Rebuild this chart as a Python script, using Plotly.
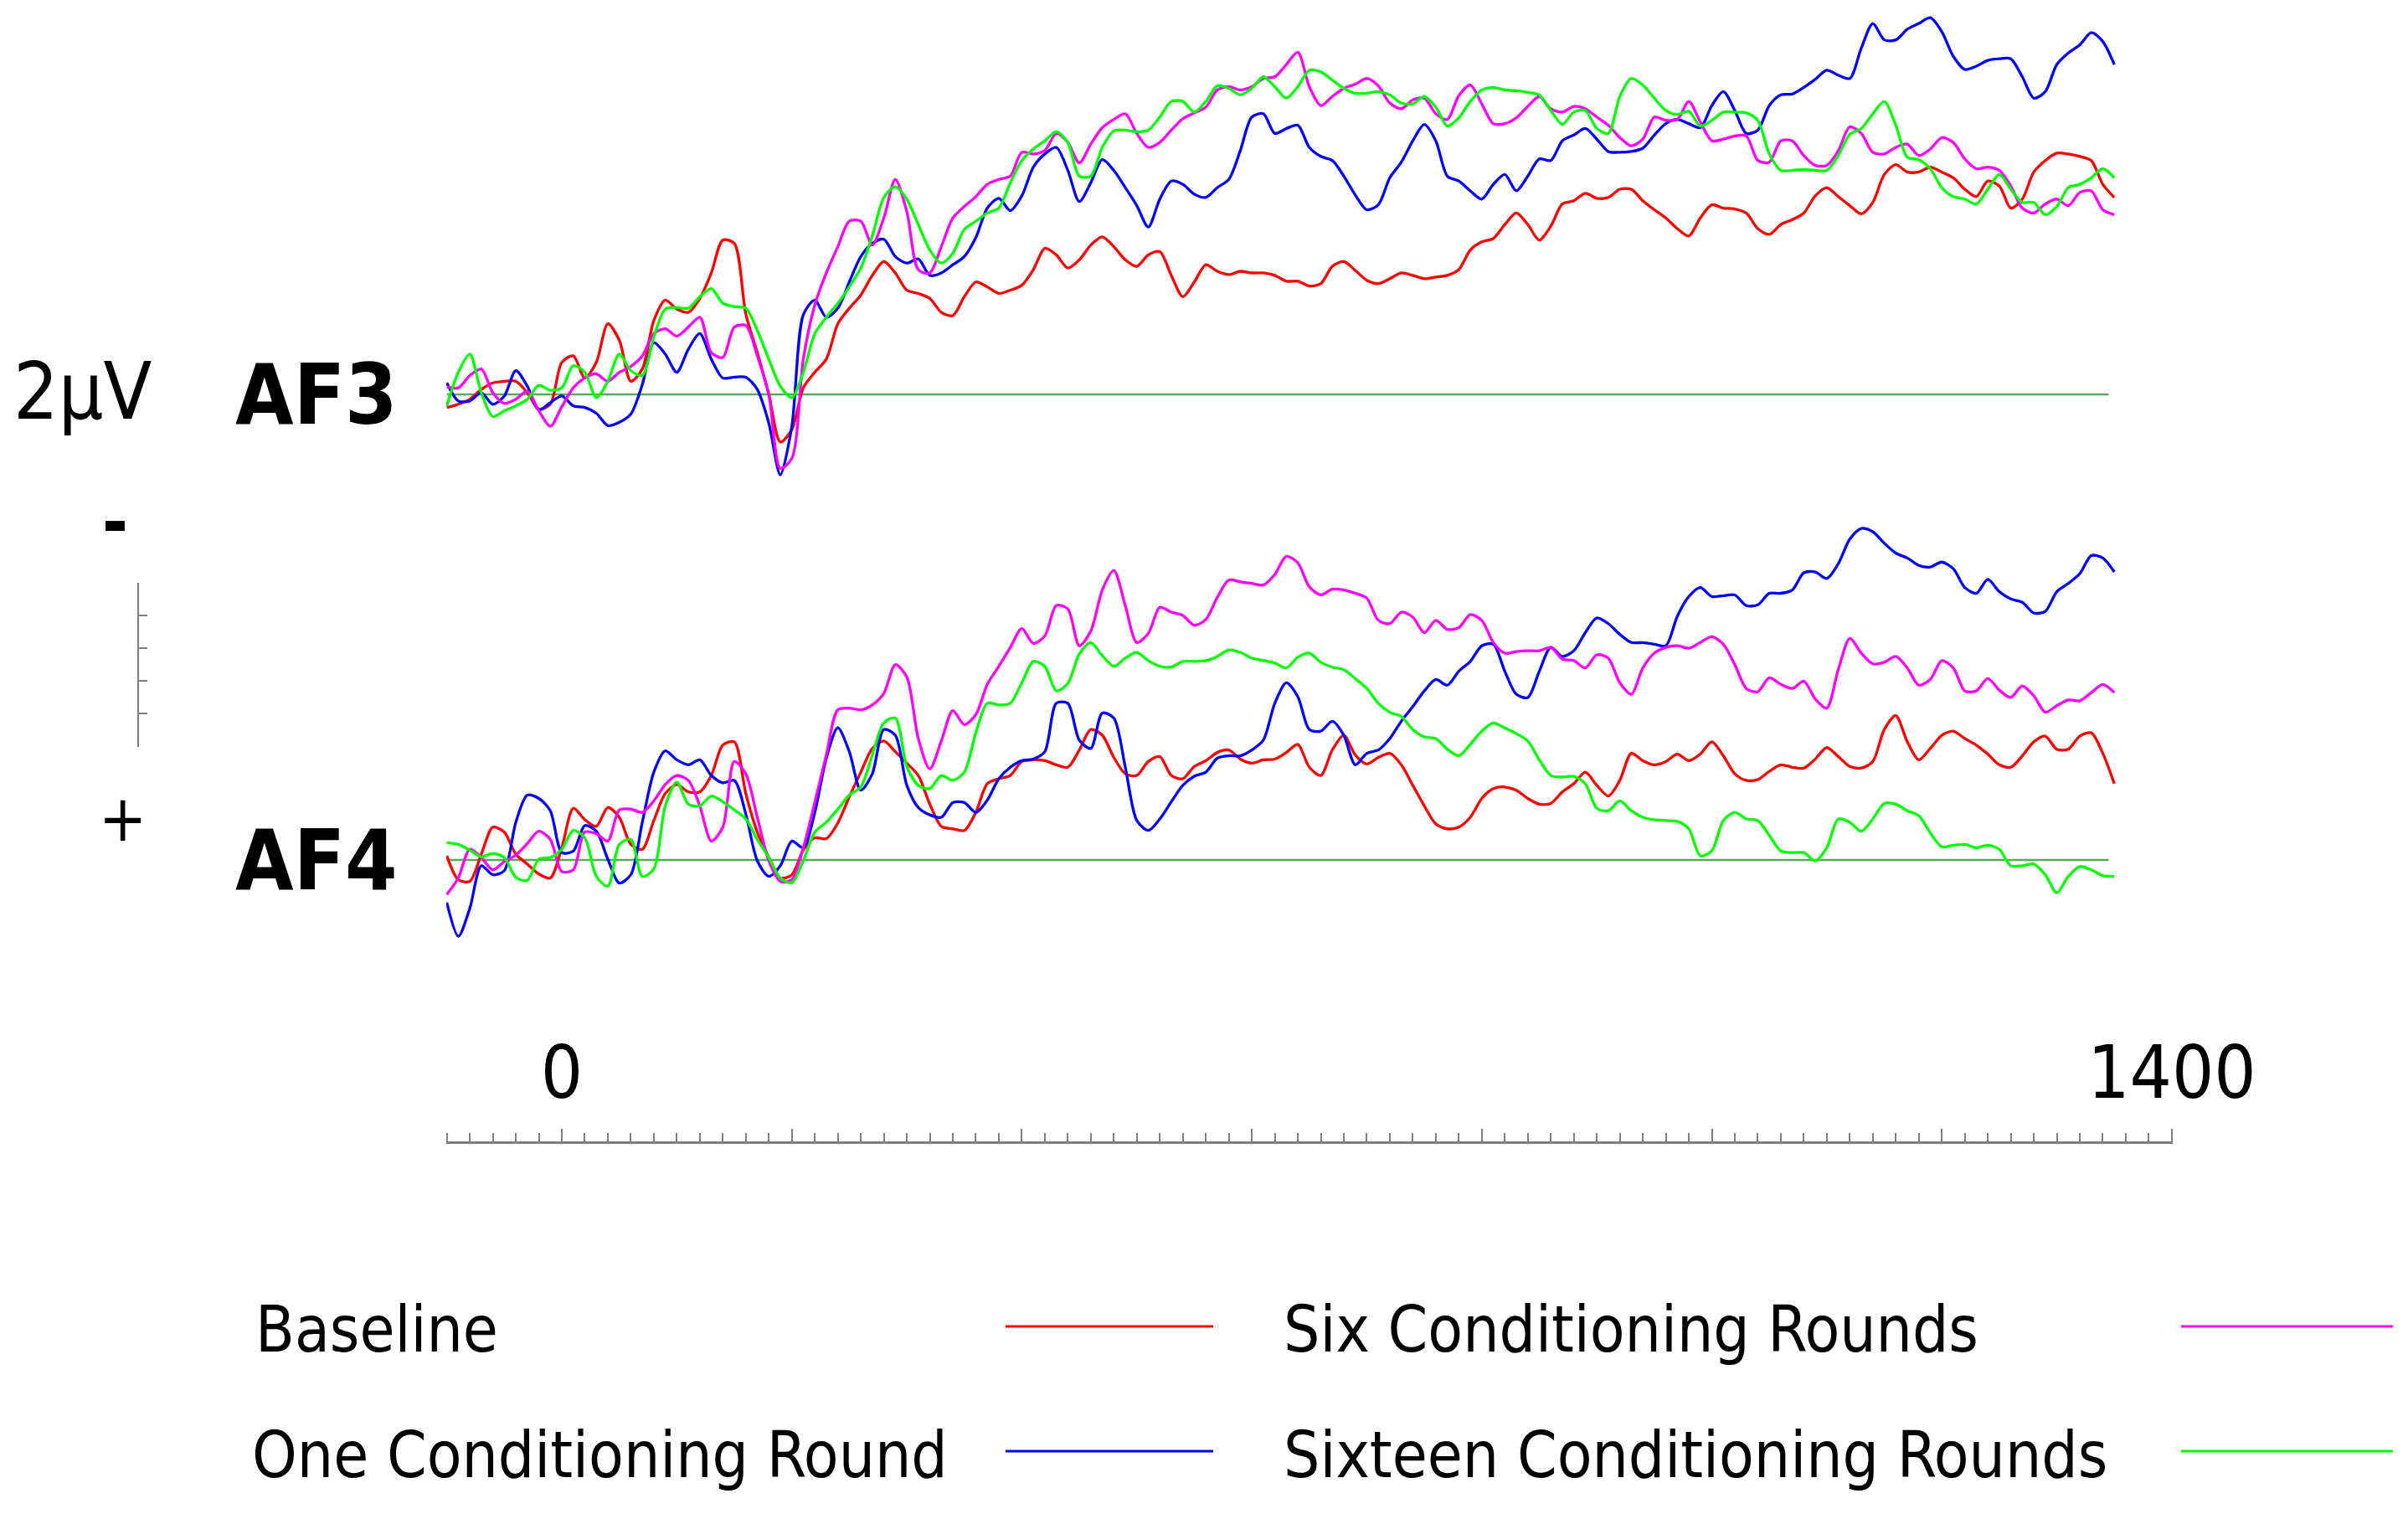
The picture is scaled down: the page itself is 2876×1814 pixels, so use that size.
import numpy as np
import plotly.graph_objects as go

# time axis, ms (10 ms samples from -100 to 1350)
time_ms = np.arange(-100, 1351, 10)

# amplitudes in microvolts (negative plotted upward)
af3_baseline = [
    0.16, 0.12, 0.06, -0.06, -0.14, -0.16, -0.16, -0.02, 0.18, 0.12,
    -0.39, -0.47, -0.20, -0.39, -0.86, -0.66, -0.16, -0.31, -0.90, -1.15,
    -1.04, -1.00, -1.17, -1.48, -1.88, -1.84, -0.98, -0.51, 0.00, 0.58,
    0.43, -0.08, -0.27, -0.43, -0.86, -1.05, -1.21, -1.45, -1.62, -1.48,
    -1.27, -1.23, -1.17, -1.00, -0.96, -1.19, -1.37, -1.31, -1.23,
    -1.27, -1.33, -1.52, -1.78, -1.70, -1.54, -1.64, -1.82, -1.92, -1.80,
    -1.64, -1.56, -1.70, -1.74, -1.45, -1.19, -1.37, -1.58, -1.50, -1.46,
    -1.50, -1.48, -1.48, -1.45, -1.38, -1.38, -1.32, -1.35, -1.56, -1.62,
    -1.51, -1.39, -1.35, -1.41, -1.48, -1.45, -1.41, -1.43, -1.45, -1.52,
    -1.76, -1.86, -1.90, -2.07, -2.21, -2.07, -1.88, -2.05, -2.32,
    -2.36, -2.45, -2.39, -2.40, -2.50, -2.50, -2.36, -2.25, -2.15, -2.02,
    -1.93, -2.15, -2.31, -2.27, -2.26, -2.21, -2.02, -1.95, -2.07, -2.13,
    -2.21, -2.42, -2.52, -2.41, -2.30, -2.20, -2.34, -2.68, -2.80, -2.71,
    -2.71, -2.77, -2.71, -2.64, -2.50, -2.41, -2.60, -2.54, -2.27, -2.38,
    -2.71, -2.85, -2.94, -2.93, -2.90, -2.85, -2.56, -2.40,
]
af3_one = [
    -0.14, 0.08, 0.08, -0.02, 0.12, 0.02, -0.29, -0.10, 0.19, 0.10,
    0.02, 0.14, 0.16, 0.23, 0.38, 0.34, 0.24, -0.12, -0.63, -0.49,
    -0.27, -0.55, -0.74, -0.43, -0.20, -0.21, -0.21, -0.06, 0.35, 0.98,
    0.39, -0.97, -1.15, -0.94, -1.05, -1.37, -1.68, -1.84, -1.89, -1.68,
    -1.60, -1.65, -1.45, -1.48, -1.58, -1.68, -1.91, -2.27, -2.39,
    -2.24, -2.42, -2.77, -2.93, -3.01, -2.73, -2.35, -2.58, -2.86, -2.73,
    -2.52, -2.30, -2.04, -2.38, -2.60, -2.56, -2.44, -2.40, -2.52, -2.62,
    -2.97, -3.38, -3.42, -3.18, -3.24, -3.28, -3.01, -2.90, -2.85, -2.66,
    -2.43, -2.25, -2.31, -2.64, -2.83, -3.09, -3.29, -3.09, -2.66, -2.60,
    -2.48, -2.38, -2.56, -2.68, -2.48, -2.66, -2.87, -2.85, -3.09,
    -3.16, -3.24, -3.11, -2.96, -2.95, -2.96, -3.00, -3.16, -3.30, -3.35,
    -3.30, -3.25, -3.52, -3.69, -3.46, -3.18, -3.22, -3.52, -3.65, -3.66,
    -3.74, -3.84, -3.95, -3.89, -3.85, -4.22, -4.52, -4.32, -4.32, -4.45,
    -4.52, -4.59, -4.42, -4.12, -3.96, -4.00, -4.07, -4.09, -4.09, -3.87,
    -3.61, -3.69, -4.02, -4.16, -4.26, -4.41, -4.30, -4.02,
]
af3_six = [
    -0.09, -0.08, -0.23, -0.31, -0.02, 0.11, 0.06, -0.04, 0.20, 0.39,
    0.15, -0.08, -0.20, -0.25, -0.16, -0.27, -0.34, -0.47, -0.74, -0.80,
    -0.71, -0.82, -0.94, -0.51, -0.45, -0.82, -0.84, -0.47, 0.00, 0.90,
    0.78, -0.43, -1.09, -1.48, -1.80, -2.11, -2.11, -1.82, -2.15, -2.62,
    -2.23, -1.52, -1.48, -1.80, -2.15, -2.29, -2.41, -2.56, -2.62,
    -2.66, -2.95, -2.93, -2.97, -3.18, -3.07, -2.82, -3.05, -3.25, -3.35,
    -3.42, -3.18, -3.01, -3.07, -3.22, -3.36, -3.43, -3.50, -3.71, -3.75,
    -3.71, -3.75, -3.85, -3.87, -4.02, -4.17, -3.75, -3.52, -3.63, -3.73,
    -3.78, -3.85, -3.76, -3.55, -3.48, -3.59, -3.61, -3.42, -3.35, -3.64,
    -3.77, -3.54, -3.30, -3.30, -3.37, -3.51, -3.63, -3.48, -3.44,
    -3.51, -3.48, -3.38, -3.28, -3.13, -3.03, -3.11, -3.38, -3.34, -3.35,
    -3.57, -3.32, -3.09, -3.11, -3.15, -3.15, -2.85, -2.83, -3.09, -3.09,
    -2.91, -2.79, -2.79, -2.97, -3.26, -3.18, -2.95, -2.93, -3.01, -3.05,
    -2.91, -2.99, -3.13, -3.07, -2.87, -2.75, -2.77, -2.73, -2.54, -2.27,
    -2.21, -2.32, -2.38, -2.30, -2.46, -2.48, -2.25, -2.19,
]
af3_sixteen = [
    0.14, -0.27, -0.49, -0.02, 0.27, 0.20, 0.14, 0.06, -0.11, -0.05,
    -0.08, -0.35, -0.27, 0.04, -0.16, -0.49, -0.29, -0.23, -0.70, -1.04,
    -1.06, -1.05, -1.19, -1.29, -1.11, -1.07, -1.05, -0.78, -0.43, -0.10,
    0.04, -0.27, -0.74, -0.94, -1.11, -1.31, -1.54, -1.93, -2.40, -2.53,
    -2.38, -2.07, -1.76, -1.60, -1.72, -2.01, -2.11, -2.21, -2.27,
    -2.58, -2.85, -2.99, -3.09, -3.20, -3.07, -2.66, -2.66, -3.01, -3.21,
    -3.22, -3.20, -3.22, -3.38, -3.57, -3.57, -3.44, -3.57, -3.76, -3.73,
    -3.65, -3.73, -3.87, -3.75, -3.61, -3.75, -3.95, -3.93, -3.83, -3.73,
    -3.67, -3.67, -3.69, -3.65, -3.55, -3.54, -3.63, -3.50, -3.27, -3.37,
    -3.57, -3.71, -3.74, -3.71, -3.70, -3.68, -3.65, -3.46, -3.29,
    -3.44, -3.46, -3.24, -3.18, -3.63, -3.85, -3.77, -3.61, -3.46, -3.41,
    -3.45, -3.27, -3.34, -3.44, -3.44, -3.43, -3.34, -2.93, -2.73, -2.73,
    -2.74, -2.73, -2.73, -2.91, -3.17, -3.24, -3.42, -3.57, -3.28, -2.89,
    -2.86, -2.75, -2.52, -2.41, -2.38, -2.32, -2.50, -2.68, -2.50, -2.34,
    -2.34, -2.19, -2.29, -2.52, -2.56, -2.64, -2.75, -2.64,
]

af4_baseline = [
    -0.05, 0.24, 0.26, -0.07, -0.40, -0.34, -0.07, 0.05, 0.17, 0.22,
    -0.15, -0.63, -0.49, -0.41, -0.64, -0.52, -0.19, -0.13, -0.48, -0.81,
    -0.92, -0.83, -0.83, -1.03, -1.40, -1.44, -0.81, -0.34, -0.03, 0.22,
    0.18, -0.12, -0.27, -0.26, -0.45, -0.77, -1.07, -1.36, -1.45, -1.32,
    -1.18, -1.03, -0.68, -0.41, -0.38, -0.36, -0.58, -0.93, -0.99,
    -1.03, -1.20, -1.22, -1.21, -1.16, -1.13, -1.34, -1.59, -1.52, -1.25,
    -1.05, -1.03, -1.20, -1.26, -1.03, -0.99, -1.14, -1.21, -1.31, -1.34,
    -1.23, -1.18, -1.22, -1.23, -1.31, -1.41, -1.13, -1.03, -1.34, -1.52,
    -1.28, -1.17, -1.25, -1.30, -1.16, -0.91, -0.66, -0.44, -0.38, -0.40,
    -0.52, -0.75, -0.87, -0.89, -0.85, -0.75, -0.68, -0.69, -0.83,
    -0.93, -1.07, -0.91, -0.78, -0.97, -1.30, -1.21, -1.16, -1.20, -1.29,
    -1.21, -1.29, -1.44, -1.27, -1.05, -0.97, -0.98, -1.08, -1.16, -1.13,
    -1.12, -1.23, -1.37, -1.26, -1.14, -1.12, -1.20, -1.59, -1.76, -1.44,
    -1.22, -1.36, -1.52, -1.57, -1.48, -1.40, -1.29, -1.16, -1.13, -1.27,
    -1.44, -1.51, -1.35, -1.35, -1.51, -1.55, -1.30, -0.93,
]
af4_one = [
    0.52, 0.93, 0.59, 0.07, 0.18, 0.13, -0.46, -0.79, -0.75, -0.60,
    -0.09, -0.11, -0.42, -0.35, -0.01, 0.28, 0.18, -0.46, -1.07, -1.33,
    -1.22, -1.16, -1.22, -1.03, -0.94, -0.97, -0.56, 0.01, 0.20, 0.07,
    -0.23, -0.15, -0.58, -1.24, -1.61, -1.32, -0.85, -1.05, -1.59, -1.52,
    -0.91, -0.64, -0.55, -0.52, -0.70, -0.70, -0.58, -0.73, -0.99,
    -1.13, -1.21, -1.23, -1.32, -1.91, -1.91, -1.46, -1.36, -1.79, -1.73,
    -1.13, -0.48, -0.36, -0.50, -0.71, -0.91, -1.02, -1.07, -1.24, -1.27,
    -1.27, -1.34, -1.46, -1.91, -2.16, -1.99, -1.59, -1.57, -1.69, -1.52,
    -1.16, -1.30, -1.34, -1.48, -1.69, -1.87, -2.06, -2.20, -2.13, -2.30,
    -2.42, -2.61, -2.63, -2.30, -2.02, -1.98, -2.30, -2.59, -2.48,
    -2.55, -2.77, -2.95, -2.88, -2.75, -2.65, -2.65, -2.63, -2.61, -2.97,
    -3.21, -3.32, -3.21, -3.22, -3.23, -3.10, -3.11, -3.25, -3.25, -3.29,
    -3.50, -3.51, -3.43, -3.61, -3.91, -4.04, -4.00, -3.86, -3.74, -3.68,
    -3.59, -3.57, -3.63, -3.55, -3.32, -3.25, -3.42, -3.27, -3.18, -3.14,
    -3.01, -3.03, -3.27, -3.37, -3.49, -3.71, -3.68, -3.51,
]
af4_six = [
    0.42, 0.22, -0.13, -0.03, 0.12, 0.02, -0.06, -0.20, -0.35, -0.25,
    0.14, 0.12, -0.34, -0.32, -0.23, -0.61, -0.62, -0.58, -0.72, -0.92,
    -1.03, -0.97, -0.66, -0.23, -0.40, -1.20, -1.05, -0.52, 0.01, 0.26,
    0.24, -0.15, -0.70, -1.28, -1.83, -1.85, -1.83, -1.89, -2.03, -2.38,
    -2.23, -1.48, -1.11, -1.45, -1.82, -1.65, -1.77, -2.14, -2.36,
    -2.59, -2.82, -2.64, -2.73, -3.10, -3.06, -2.61, -2.79, -3.29, -3.53,
    -3.10, -2.65, -2.76, -3.08, -3.02, -2.98, -2.86, -2.93, -3.20, -3.41,
    -3.39, -3.37, -3.35, -3.48, -3.70, -3.62, -3.33, -3.23, -3.30, -3.29,
    -3.25, -3.19, -2.92, -2.88, -3.02, -2.96, -2.77, -2.92, -2.81, -2.83,
    -2.99, -2.92, -2.65, -2.52, -2.54, -2.55, -2.55, -2.59, -2.45,
    -2.43, -2.34, -2.50, -2.46, -2.16, -2.02, -2.34, -2.52, -2.59, -2.61,
    -2.58, -2.65, -2.72, -2.63, -2.38, -2.09, -2.05, -2.22, -2.14, -2.09,
    -2.18, -1.96, -1.85, -2.32, -2.70, -2.52, -2.39, -2.41, -2.48, -2.34,
    -2.13, -2.20, -2.43, -2.34, -2.06, -2.06, -2.21, -2.07, -1.98, -2.12,
    -2.00, -1.80, -1.88, -1.95, -1.94, -2.04, -2.14, -2.04,
]
af4_sixteen = [
    -0.21, -0.19, -0.12, -0.04, -0.08, -0.03, 0.21, 0.25, -0.01, -0.03,
    -0.13, -0.36, -0.27, 0.20, 0.32, -0.19, -0.25, 0.20, 0.11, -0.66,
    -0.95, -0.68, -0.66, -0.78, -0.71, -0.61, -0.50, -0.25, -0.03, 0.22,
    0.28, 0.01, -0.34, -0.46, -0.62, -0.79, -0.89, -1.28, -1.67, -1.73,
    -1.14, -0.91, -0.87, -1.03, -0.97, -1.07, -1.55, -1.91, -1.89,
    -1.91, -2.16, -2.42, -2.36, -2.06, -2.15, -2.51, -2.65, -2.49, -2.36,
    -2.46, -2.53, -2.43, -2.36, -2.35, -2.42, -2.42, -2.43, -2.48, -2.56,
    -2.53, -2.46, -2.43, -2.40, -2.34, -2.47, -2.52, -2.41, -2.35, -2.32,
    -2.21, -2.09, -1.91, -1.80, -1.75, -1.59, -1.50, -1.48, -1.35, -1.27,
    -1.41, -1.57, -1.67, -1.61, -1.54, -1.45, -1.22, -1.03, -1.01,
    -1.02, -0.93, -0.63, -0.60, -0.72, -0.60, -0.52, -0.49, -0.48, -0.47,
    -0.38, -0.05, -0.11, -0.48, -0.58, -0.50, -0.48, -0.30, -0.11, -0.09,
    -0.09, 0.01, -0.15, -0.50, -0.46, -0.35, -0.50, -0.69, -0.68, -0.60,
    -0.54, -0.33, -0.16, -0.18, -0.19, -0.15, -0.18, -0.13, 0.07, 0.07,
    0.05, 0.18, 0.40, 0.20, 0.08, 0.12, 0.19, 0.20,
]

conditions = ["Baseline", "One Conditioning Round",
              "Six Conditioning Rounds", "Sixteen Conditioning Rounds"]
colors = ["#ff0000", "#0000ff", "#ff00ff", "#00ff00"]
af3_series = [af3_baseline, af3_one, af3_six, af3_sixteen]
af4_series = [af4_baseline, af4_one, af4_six, af4_sixteen]

ruler_ticks = [0, 200, 400, 600, 800, 1000, 1200, 1400]
ruler_labels = ["0", "", "", "", "", "", "", "1400"]

W, H = 2876, 1814
PAGE_OFFSET = 8  # the html body margin shifts the figure by this much
FONT = "DejaVu Sans Condensed, Liberation Sans, sans-serif"
GRAY = "#7f7f7f"


def fx(px):
    return (px - PAGE_OFFSET) / W


def fy(py):
    return 1 - (py - PAGE_OFFSET) / H


def ms_px(ms):
    return 671 + ms * 1.3735


PX_PER_UV = 98.0
x_range = [-100.5, 1400.5]
x_domain = [fx(ms_px(x_range[0])), fx(ms_px(x_range[1]))]

fig = go.Figure()
for name, color, a3, a4 in zip(conditions, colors, af3_series, af4_series):
    for vals, yax in [(a3, "y"), (a4, "y2")]:
        fig.add_trace(go.Scatter(x=time_ms, y=vals, mode="lines", name=name,
                                 line=dict(color=color, width=3.3, shape="spline", smoothing=0.8),
                                 xaxis="x", yaxis=yax, cliponaxis=False, showlegend=False))

# empty trace so the time ruler and the voltage scale bar get drawn
fig.add_trace(go.Scatter(x=[], y=[], xaxis="x2", yaxis="y3", showlegend=False))

# channel panels: zero rows at 471 (AF3) and 1027 (AF4) px
af3_top, af3_bot, af3_zero = 8, 620, 471
af4_top, af4_bot, af4_zero = 620, 1250, 1027

fig.update_layout(
    width=W, height=H,
    margin=dict(l=0, r=0, t=0, b=0),
    paper_bgcolor="white",
    plot_bgcolor="rgba(0,0,0,0)",
    showlegend=False,
    xaxis=dict(domain=x_domain, range=x_range, visible=False, automargin=False),
    yaxis=dict(domain=[fy(af3_bot), fy(af3_top)],
               range=[(af3_bot - af3_zero) / PX_PER_UV, (af3_top - af3_zero) / PX_PER_UV],
               visible=False, anchor="x", automargin=False),
    yaxis2=dict(domain=[fy(af4_bot), fy(af4_top)],
                range=[(af4_bot - af4_zero) / PX_PER_UV, (af4_top - af4_zero) / PX_PER_UV],
                visible=False, anchor="x", automargin=False),
    xaxis2=dict(domain=x_domain, range=x_range, anchor="free", position=fy(1364),
                side="top", showline=True, linecolor=GRAY, linewidth=3,
                showgrid=False, zeroline=False, automargin=False,
                tickmode="array", tickvals=ruler_ticks, ticktext=ruler_labels,
                ticks="outside", ticklen=15, tickwidth=2, tickcolor=GRAY,
                minor=dict(tick0=0, dtick=20, ticks="outside", ticklen=10,
                           tickwidth=2, tickcolor=GRAY),
                tickfont=dict(family=FONT, size=88, color="black"),
                ticklabelstandoff=2),
    yaxis3=dict(domain=[fy(892), fy(695.5)], range=[-0.005, 2.005], anchor="free",
                position=fx(165), showline=True, linecolor=GRAY, linewidth=2,
                showgrid=False, zeroline=False, showticklabels=False, automargin=False,
                tickmode="array", tickvals=[0, 0.4, 0.8, 1.2, 1.6, 2.0],
                ticks="inside", ticklen=10, tickwidth=2, tickcolor=GRAY),
)

# zero lines for each channel
for yref in ["y", "y2"]:
    fig.add_shape(type="line", xref="x", yref=yref, x0=-100, x1=1345, y0=0, y1=0,
                  line=dict(color="#5aa85a", width=2.5), layer="below")

annotations = [
    dict(text="2\u00b5V", x=fx(14), y=fy(468), xanchor="left", yanchor="middle",
         font=dict(family=FONT, size=94, color="black")),
    dict(text="<b>AF3</b>", x=fx(279), y=fy(472), xanchor="left", yanchor="middle",
         font=dict(family=FONT, size=100, color="black")),
    dict(text="<b>AF4</b>", x=fx(279), y=fy(1027), xanchor="left", yanchor="middle",
         font=dict(family=FONT, size=100, color="black")),
    dict(text="<b>-</b>", x=fx(137), y=fy(624), xanchor="center", yanchor="middle",
         font=dict(family=FONT, size=83, color="black")),
    dict(text="+", x=fx(146), y=fy(977), xanchor="center", yanchor="middle",
         font=dict(family=FONT, size=76, color="black")),
]

# legend: label on the left, line sample on the right, two columns
legend_text_x = [303, 299, 1531, 1531]
legend_row_y = [1587, 1737, 1587, 1737]
legend_line_x = [(1201, 1449), (1201, 1449), (2605, 2858), (2605, 2858)]
legend_line_y = [1584, 1733, 1584, 1733]
for name, color, tx, ty, (lx0, lx1), ly in zip(conditions, colors, legend_text_x,
                                               legend_row_y, legend_line_x, legend_line_y):
    annotations.append(dict(text=name, x=fx(tx), y=fy(ty), xanchor="left", yanchor="middle",
                            font=dict(family=FONT, size=76, color="black")))
    fig.add_shape(type="line", xref="paper", yref="paper", x0=fx(lx0), x1=fx(lx1),
                  y0=fy(ly), y1=fy(ly), line=dict(color=color, width=3))

for a in annotations:
    a.update(xref="paper", yref="paper", showarrow=False)
fig.update_layout(annotations=annotations)

fig.write_html("out.html")
